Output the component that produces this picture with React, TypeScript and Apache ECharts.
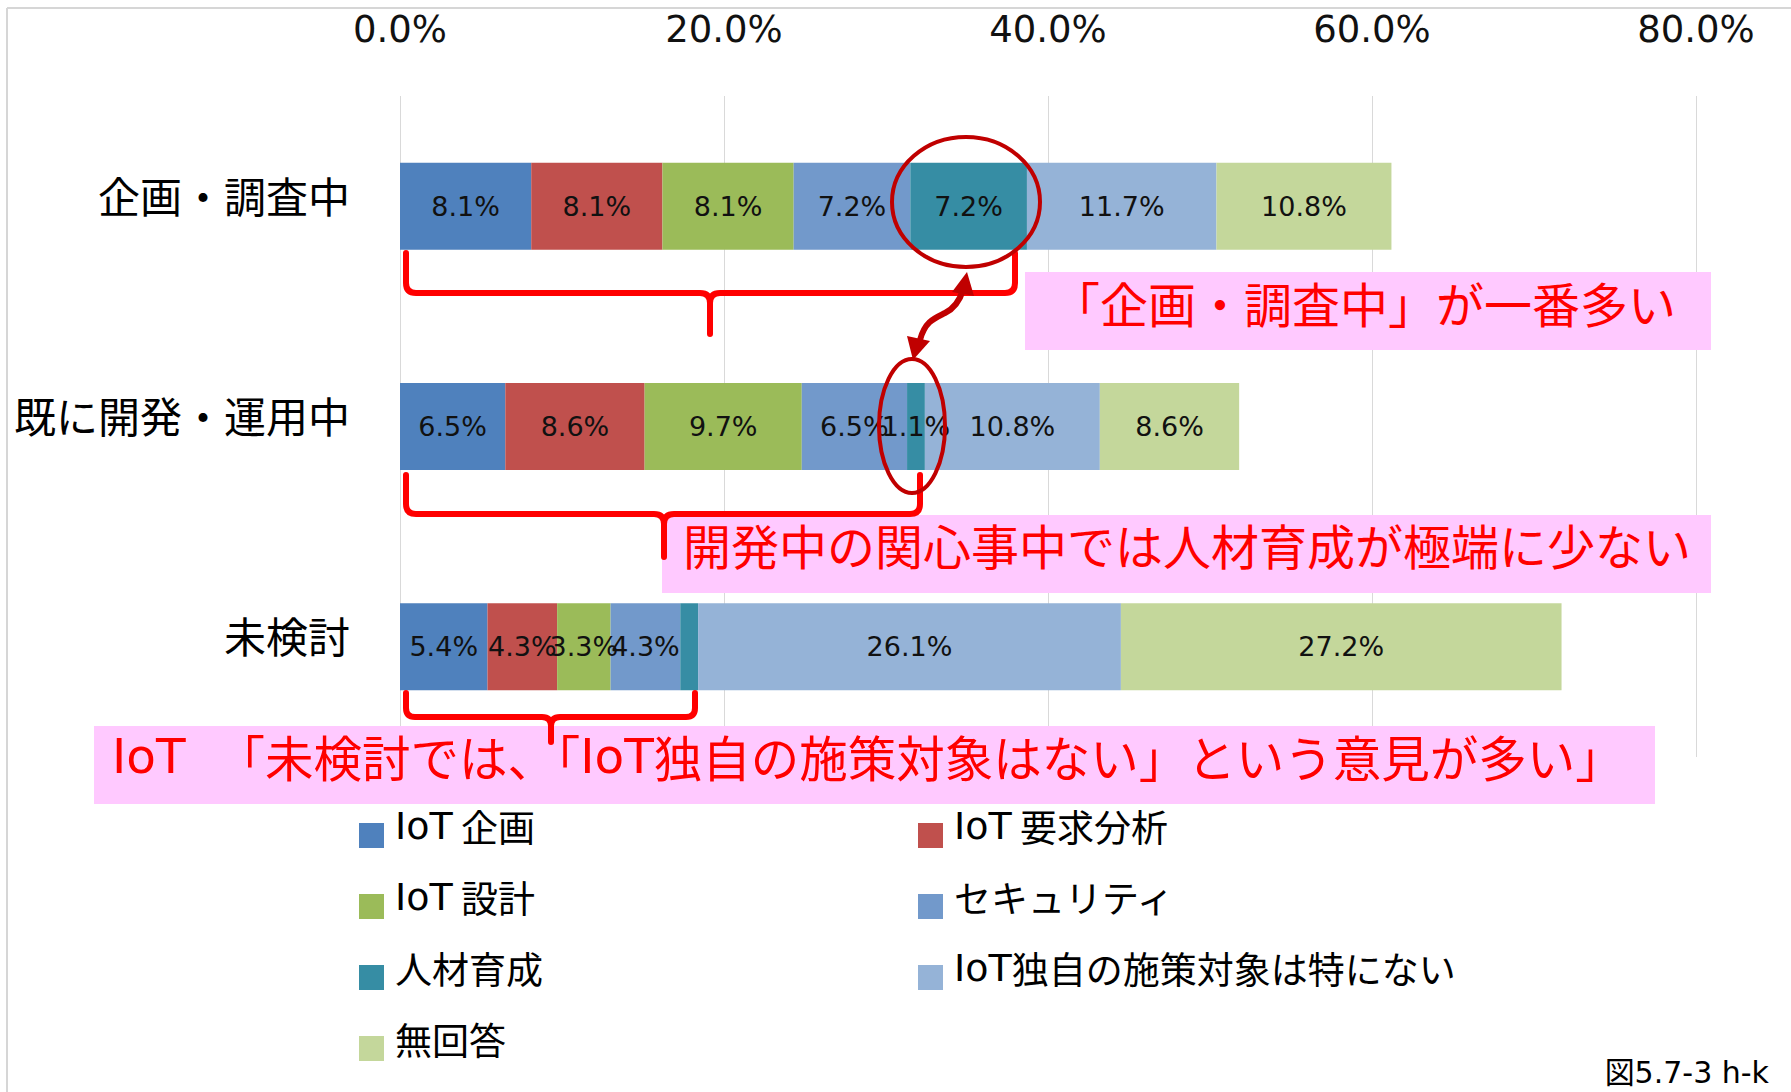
import React, { useEffect, useRef } from 'react';
import * as echarts from 'echarts';

// ---- data ----
const categories = ['企画・調査中', '既に開発・運用中', '未検討'];
const seriesNames = [
  'IoT 企画',
  'IoT 要求分析',
  'IoT 設計',
  'セキュリティ',
  '人材育成',
  'IoT独自の施策対象は特にない',
  '無回答',
];
const planning = [8.1, 6.5, 5.4];
const requirements = [8.1, 8.6, 4.3];
const design = [8.1, 9.7, 3.3];
const security = [7.2, 6.5, 4.3];
const talent = [7.2, 1.1, 1.1];
const noSpecific = [11.7, 10.8, 26.1];
const noAnswer = [10.8, 8.6, 27.2];
const seriesValues = [planning, requirements, design, security, talent, noSpecific, noAnswer];
const seriesColors = ['#4F81BD', '#C0504D', '#9BBB59', '#7299CB', '#368DA4', '#95B3D7', '#C4D79B'];
// label omitted in the original for this segment
const hiddenLabel = { series: '人材育成', category: '未検討' };

const axisMin = 0;
const axisMax = 80;
const axisStep = 20;

const legendLeftItems = ['IoT 企画', 'IoT 設計', '人材育成', '無回答'];
const legendRightItems = ['IoT 要求分析', 'セキュリティ', 'IoT独自の施策対象は特にない'];

const noteTop = '「企画・調査中」が一番多い';
const noteMid = '開発中の関心事中では人材育成が極端に少ない';
const noteBottom = 'IoT 「未検討では、「IoT独自の施策対象はない」という意見が多い」';
const figureCaption = '図5.7-3 h-k';

// ---- annotation shapes ----
function bracePath(x1: number, x2: number, yTop: number, yLine: number, xTip: number, yTip: number, r: number) {
  return [
    `M${x1} ${yTop}`,
    `L${x1} ${yLine - r}`,
    `Q${x1} ${yLine} ${x1 + r} ${yLine}`,
    `L${xTip - r} ${yLine}`,
    `Q${xTip} ${yLine} ${xTip} ${yLine + r}`,
    `L${xTip} ${yTip}`,
    `M${xTip} ${yLine + r}`,
    `Q${xTip} ${yLine} ${xTip + r} ${yLine}`,
    `L${x2 - r} ${yLine}`,
    `Q${x2} ${yLine} ${x2} ${yLine - r}`,
    `L${x2} ${yTop}`,
  ].join(' ');
}

echarts.graphic.registerShape('braceTop', echarts.graphic.extendPath(bracePath(406, 1015, 253, 293, 710, 334, 10), {}));
echarts.graphic.registerShape('braceMid', echarts.graphic.extendPath(bracePath(406, 920, 475, 514, 664, 557, 10), {}));
echarts.graphic.registerShape('braceLow', echarts.graphic.extendPath(bracePath(406, 695, 693, 717, 551, 742, 9), {}));
echarts.graphic.registerShape(
  'wavyLink',
  echarts.graphic.extendPath('M963 290 C959 303 953 309 945 313 C935 318 925 321 920 340', {})
);

const pinkFill = '#FFC9FF';
const noteRed = '#FF0000';
const darkRed = '#C00000';
const jpFont = '"Noto Sans CJK JP", sans-serif';
const numFont = '"DejaVu Sans", "Noto Sans CJK JP", sans-serif';
const latinFont = '"DejaVu Sans", sans-serif';

const withLatin = (s: string) => s.replace(/IoT/g, '{lat|IoT}');
// the original note is set with a wide half-width space after the first "IoT"
const noteRich = (s: string) =>
  s.replace(/IoT( ?)/g, (_m: string, sp: string) => (sp ? '{lat|IoT  }' : '{lat|IoT}'));

export default function App() {
  const ref = useRef<HTMLDivElement>(null);

  useEffect(() => {
    if (!ref.current) return;
    const chart = echarts.init(ref.current, undefined, { renderer: 'svg' });

    const series = seriesNames.map((name, si) => ({
      name,
      type: 'bar',
      stack: 'total',
      barWidth: 87,
      itemStyle: { color: seriesColors[si] },
      label: {
        show: true,
        position: 'inside',
        fontSize: 27,
        fontFamily: numFont,
        color: '#111',
        formatter: (p: any) => Number(p.value).toFixed(1) + '%',
      },
      data: seriesValues[si].map((v, ci) =>
        name === hiddenLabel.series && categories[ci] === hiddenLabel.category
          ? { value: v, label: { show: false } }
          : v
      ),
    }));

    const legendCommon = {
      orient: 'vertical',
      padding: 0,
      itemGap: 27,
      itemWidth: 25,
      itemHeight: 44,
      icon: 'path://M0 0L0.01 0M0 19H25V44H0Z',
      selectedMode: false,
      formatter: (name: string) => withLatin(name),
      textStyle: {
        fontSize: 37,
        fontFamily: jpFont,
        color: '#000',
        padding: [0, 0, 0, 6],
        rich: { lat: { fontSize: 38, fontFamily: latinFont, color: '#000' } },
      },
    };

    chart.setOption({
      animation: false,
      backgroundColor: '#fff',
      textStyle: { fontFamily: jpFont },
      grid: { left: 400, right: 95, top: 96, bottom: 335, containLabel: false },
      xAxis: {
        type: 'value',
        position: 'top',
        min: axisMin,
        max: axisMax,
        interval: axisStep,
        axisLine: { show: false },
        axisTick: { show: false },
        axisLabel: {
          margin: 48,
          fontSize: 37,
          fontFamily: numFont,
          color: '#111',
          formatter: (v: number) => v.toFixed(1) + '%',
        },
        splitLine: { show: true, lineStyle: { color: '#D9D9D9', width: 1 } },
      },
      yAxis: {
        type: 'category',
        inverse: true,
        data: categories,
        axisLine: { show: false },
        axisTick: { show: false },
        axisLabel: {
          margin: 50,
          fontSize: 42,
          fontFamily: jpFont,
          color: '#000',
          verticalAlign: 'bottom',
          lineHeight: 24,
        },
      },
      legend: [
        { ...legendCommon, left: 359, top: 804, data: legendLeftItems },
        { ...legendCommon, left: 918, top: 804, data: legendRightItems },
      ],
      series,
      graphic: [
        // frame
        { type: 'line', z: 20, shape: { x1: 7, y1: 8, x2: 1791, y2: 8 }, style: { stroke: '#D6D6D6', lineWidth: 2 } },
        { type: 'line', z: 20, shape: { x1: 7, y1: 8, x2: 7, y2: 1092 }, style: { stroke: '#D6D6D6', lineWidth: 2 } },
        // pink boxes
        { type: 'rect', z: 10, shape: { x: 1025, y: 272, width: 686, height: 78 }, style: { fill: pinkFill } },
        { type: 'rect', z: 10, shape: { x: 662, y: 515, width: 1049, height: 78 }, style: { fill: pinkFill } },
        { type: 'rect', z: 10, shape: { x: 94, y: 726, width: 1561, height: 78 }, style: { fill: pinkFill } },
        {
          type: 'text', z: 11, x: 1364, y: 302,
          style: { text: noteTop, fill: noteRed, fontSize: 48, fontFamily: jpFont, align: 'center', verticalAlign: 'middle' },
        },
        {
          type: 'text', z: 11, x: 1187, y: 544,
          style: { text: noteMid, fill: noteRed, fontSize: 48, fontFamily: jpFont, align: 'center', verticalAlign: 'middle' },
        },
        {
          type: 'text', z: 11, x: 112, y: 756,
          style: {
            text: noteRich(noteBottom),
            fill: noteRed,
            fontSize: 48.5,
            fontFamily: jpFont,
            align: 'left',
            verticalAlign: 'middle',
            rich: {
              lat: { fontSize: 48.5, fontFamily: latinFont, fill: noteRed },
            },
          },
        },
        // braces
        ...['braceTop', 'braceMid', 'braceLow'].map((t) => ({
          type: t, z: 12, x: 0, y: 0,
          style: { fill: 'none', stroke: noteRed, lineWidth: 6, lineCap: 'round', lineJoin: 'round' },
        })),
        // ellipses
        {
          type: 'ellipse', z: 12, shape: { cx: 966, cy: 202, rx: 74, ry: 65 },
          style: { fill: 'none', stroke: darkRed, lineWidth: 4 },
        },
        {
          type: 'ellipse', z: 12, shape: { cx: 912, cy: 426, rx: 33, ry: 67 },
          style: { fill: 'none', stroke: darkRed, lineWidth: 4 },
        },
        // double-headed wavy arrow
        {
          type: 'wavyLink', z: 13, x: 0, y: 0,
          style: { fill: 'none', stroke: darkRed, lineWidth: 6, lineCap: 'butt' },
        },
        {
          type: 'polygon', z: 13,
          shape: { points: [[967, 272], [974, 296], [952, 292]] },
          style: { fill: darkRed },
        },
        {
          type: 'polygon', z: 13,
          shape: { points: [[913, 360], [907, 336], [930, 341]] },
          style: { fill: darkRed },
        },
        // figure caption
        {
          type: 'text', z: 11, x: 1769, y: 1072,
          style: { text: figureCaption, fill: '#000', fontSize: 30, fontFamily: numFont, align: 'right', verticalAlign: 'middle' },
        },
      ],
    });

    return () => chart.dispose();
  }, []);

  return (
    <div
      ref={ref}
      style={{ position: 'absolute', left: 0, top: 0, width: 1791, height: 1092 }}
    />
  );
}
